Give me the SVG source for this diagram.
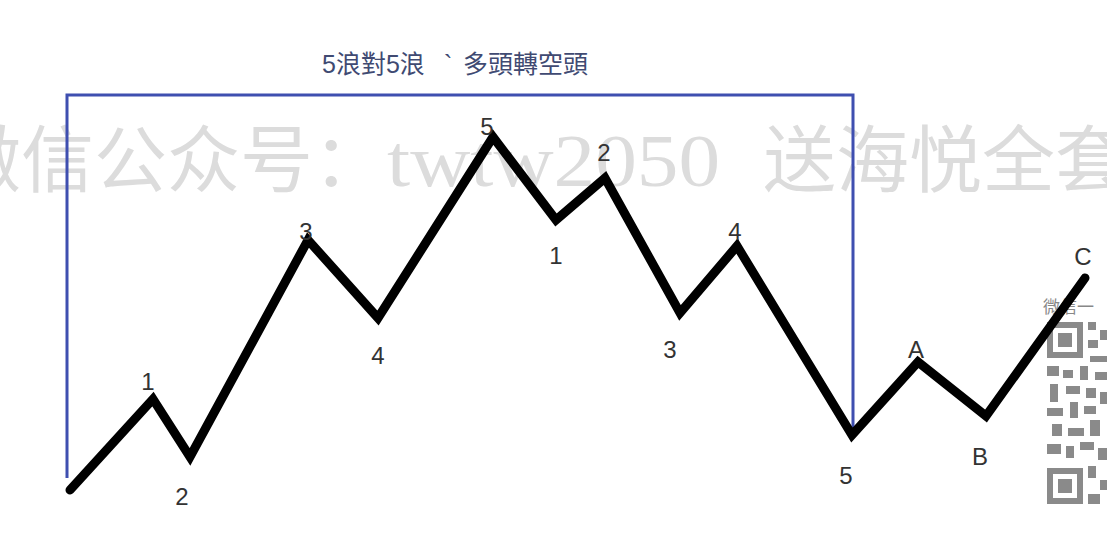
<svg xmlns="http://www.w3.org/2000/svg" width="1107" height="537" viewBox="0 0 1107 537">
<style>
.wm{font-family:"Liberation Serif","Noto Sans CJK SC",serif;font-size:73px;fill:#dcdcdc}
.lbl{font-family:"Liberation Sans","Noto Sans",sans-serif;font-size:24px;fill:#333}
.title{font-family:"Liberation Sans","Noto Sans CJK TC",sans-serif;font-size:25px;fill:#404a72}
.qr{fill:#8a8a8a}
</style>
<rect width="1107" height="537" fill="#fff"/>
<g id="watermark">
<text class="wm" x="-52" y="186" textLength="438" lengthAdjust="spacing">微信公众号：</text>
<text class="wm" x="387" y="186" textLength="333" lengthAdjust="spacingAndGlyphs">twtw2050</text>
<text class="wm" x="763" y="186" textLength="365" lengthAdjust="spacing">送海悦全套</text>
</g>
<g id="qr">
<text x="1043" y="313" font-family="Noto Sans CJK SC,sans-serif" font-size="17" fill="#888">微信一</text>
<rect x="1047" y="322" width="36" height="36" class="qr"/>
<rect x="1053" y="328" width="24" height="24" fill="#fff"/>
<rect x="1058" y="333" width="14" height="14" class="qr"/>
<rect x="1047" y="468" width="36" height="36" class="qr"/>
<rect x="1053" y="474" width="24" height="24" fill="#fff"/>
<rect x="1058" y="479" width="14" height="14" class="qr"/>
<path class="qr" d="M1088 322h8v8h-8zM1100 330h7v10h-7zM1088 340h10v8h-10zM1090 356h17v6h-17zM1047 366h12v10h-12zM1063 370h10v8h-10zM1080 366h8v14h-8zM1095 372h12v8h-12zM1050 384h8v18h-8zM1066 386h14v8h-14zM1086 388h10v10h-10zM1100 392h7v12h-7zM1047 408h16v8h-16zM1070 402h8v16h-8zM1084 406h12v8h-12zM1052 424h10v12h-10zM1068 428h16v8h-16zM1090 420h10v16h-10zM1047 444h14v10h-14zM1066 446h8v12h-8zM1080 442h14v8h-14zM1098 448h9v12h-9zM1088 466h8v12h-8zM1100 480h7v10h-7zM1088 494h12v10h-12z"/>
</g>
<g id="bracket" fill="none" stroke="#3f4fb0" stroke-width="3">
<polyline points="67,478 67,95 853,95 853,432"/>
</g>
<text class="title" x="322" y="73">5浪對5浪<tspan x="444">`</tspan><tspan x="463">多頭轉空頭</tspan></text>
<g id="connectors">
<polyline fill="none" stroke="#000" stroke-width="9" stroke-linejoin="miter" stroke-linecap="round" points="70,490 153,399 190,457 308,240 378,318 493,137 556,220 605,178 680,313 737,246 852,435 918,362 986,416 1085,278"/>
</g>
<g id="labels">
<text class="lbl" x="148" y="390" text-anchor="middle">1</text>
<text class="lbl" x="182" y="505" text-anchor="middle">2</text>
<text class="lbl" x="306" y="240" text-anchor="middle">3</text>
<text class="lbl" x="378" y="364" text-anchor="middle">4</text>
<text class="lbl" x="487" y="135" text-anchor="middle">5</text>
<text class="lbl" x="556" y="264" text-anchor="middle">1</text>
<text class="lbl" x="604" y="161" text-anchor="middle">2</text>
<text class="lbl" x="670" y="358" text-anchor="middle">3</text>
<text class="lbl" x="735" y="240" text-anchor="middle">4</text>
<text class="lbl" x="846" y="484" text-anchor="middle">5</text>
<text class="lbl" x="916" y="358" text-anchor="middle">A</text>
<text class="lbl" x="980" y="465" text-anchor="middle">B</text>
<text class="lbl" x="1083" y="265" text-anchor="middle">C</text>
</g>
</svg>
